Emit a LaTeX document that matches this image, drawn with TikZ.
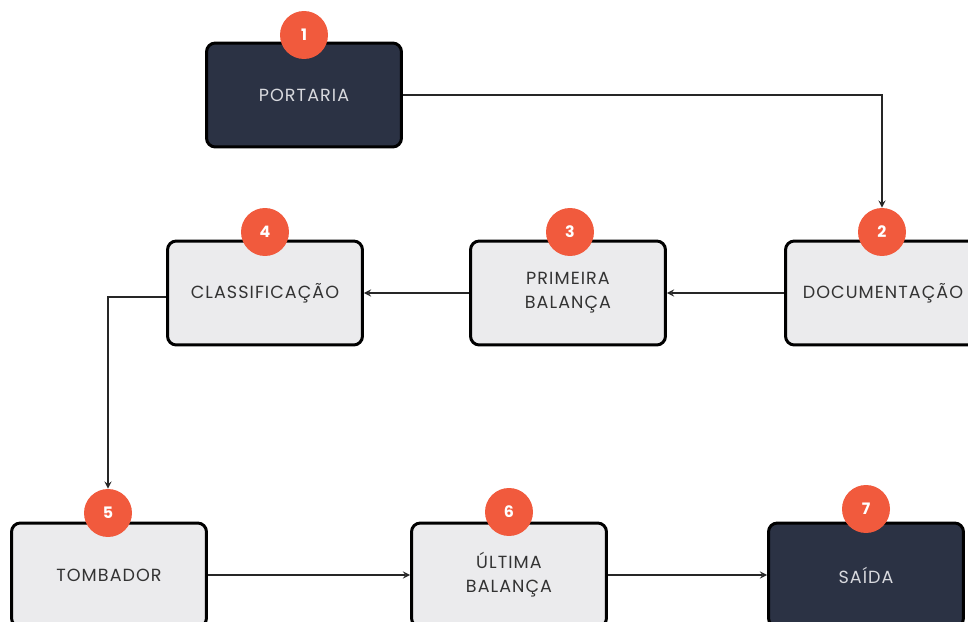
\documentclass[tikz,border=0pt]{standalone}
\usepackage{fontspec}
\setmainfont{Poppins}[LetterSpace=6]
\definecolor{escuro}{HTML}{2B3244}
\definecolor{claro}{HTML}{EBEBED}
\definecolor{laranja}{HTML}{F15A3D}
\definecolor{textoesc}{HTML}{333333}
\definecolor{textoclr}{HTML}{D8D9DE}
\tikzset{
  etapa/.style={rectangle, rounded corners=5pt, draw=black, line width=1.7pt,
    fill=claro, text=textoesc, minimum width=3.9cm, minimum height=2.08cm,
    align=center, font=\fontsize{10}{13.6}\selectfont},
  etapaesc/.style={etapa, fill=escuro, text=textoclr},
  badge/.style={circle, fill=laranja, text=white, minimum size=0.96cm,
    inner sep=0pt, font=\fontsize{9}{10}\selectfont\bfseries},
  seta/.style={->, >=stealth, line width=0.8pt, draw=black!85}
}
\begin{document}
\begin{tikzpicture}[x=0.02cm, y=-0.02cm]
  \clip (0,0) rectangle (968,622);
  \fill[white] (0,0) rectangle (968,622);

  % Etapas
  \node[etapaesc] (port) at (304,95) {PORTARIA};
  \node[etapa] (doc) at (883,293) {DOCUMENTAÇÃO};
  \node[etapa] (bal1) at (568,293) {PRIMEIRA\\BALANÇA};
  \node[etapa] (class) at (265,293) {CLASSIFICAÇÃO};
  \node[etapa] (tomb) at (109,575) {TOMBADOR};
  \node[etapa] (bal2) at (509,575) {ÚLTIMA\\BALANÇA};
  \node[etapaesc] (saida) at (866,575) {SAÍDA};

  % Números
  \node[badge] (n1) at (304,35) {1};
  \node[badge] (n2) at (882,232) {2};
  \node[badge] (n3) at (570,232) {3};
  \node[badge] (n4) at (265,232) {4};
  \node[badge] (n5) at (108,513) {5};
  \node[badge] (n6) at (509,512) {6};
  \node[badge] (n7) at (866,509) {7};

  % Ligações
  \draw[seta] (port.east) -| (n2.north);
  \draw[seta] (doc.west) -- (bal1.east);
  \draw[seta] (bal1.west) -- (class.east);
  \draw[seta] ([yshift=-0.08cm]class.west) -| (n5.north);
  \draw[seta] (tomb.east) -- (bal2.west);
  \draw[seta] (bal2.east) -- (saida.west);
\end{tikzpicture}
\end{document}
